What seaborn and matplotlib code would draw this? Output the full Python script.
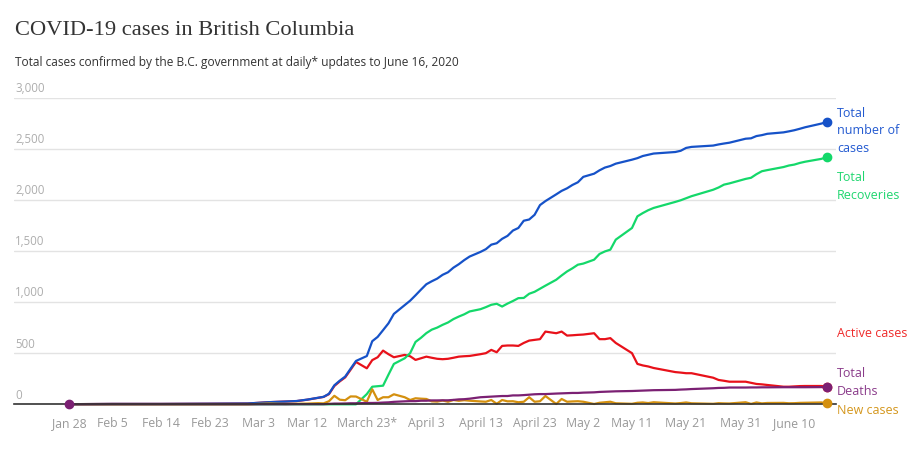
import pandas as pd
import numpy as np
import matplotlib.pyplot as plt
import seaborn as sns

# data (B.C. updates, Jan 28 - Jun 16 2020)
dates = [
    "2020-01-28", "2020-02-05", "2020-02-14", "2020-02-23", "2020-03-01",
    "2020-03-05", "2020-03-08", "2020-03-10", "2020-03-12", "2020-03-14",
    "2020-03-15", "2020-03-16", "2020-03-17", "2020-03-18", "2020-03-19",
    "2020-03-20", "2020-03-21", "2020-03-23", "2020-03-24", "2020-03-25",
    "2020-03-26", "2020-03-27", "2020-03-28", "2020-03-30", "2020-03-31",
    "2020-04-01", "2020-04-02", "2020-04-03", "2020-04-04", "2020-04-05",
    "2020-04-06", "2020-04-07", "2020-04-08", "2020-04-09", "2020-04-10",
    "2020-04-11", "2020-04-13", "2020-04-14", "2020-04-15", "2020-04-16",
    "2020-04-17", "2020-04-18", "2020-04-19", "2020-04-20", "2020-04-21",
    "2020-04-22", "2020-04-23", "2020-04-24", "2020-04-25", "2020-04-27",
    "2020-04-28", "2020-04-29", "2020-04-30", "2020-05-01", "2020-05-02",
    "2020-05-04", "2020-05-05", "2020-05-06", "2020-05-07", "2020-05-08",
    "2020-05-11", "2020-05-12", "2020-05-13", "2020-05-14", "2020-05-15",
    "2020-05-19", "2020-05-20", "2020-05-21", "2020-05-22", "2020-05-26",
    "2020-05-27", "2020-05-28", "2020-05-29", "2020-06-01", "2020-06-02",
    "2020-06-03", "2020-06-04", "2020-06-05", "2020-06-08", "2020-06-09",
    "2020-06-10", "2020-06-11", "2020-06-12", "2020-06-15", "2020-06-16",
]

total_cases = [
    1, 4, 4, 6, 8,
    21, 27, 32, 46, 64,
    73, 103, 186, 231, 271,
    348, 424, 472, 617, 659,
    725, 792, 884, 970, 1013,
    1066, 1121, 1174, 1203, 1229,
    1266, 1291, 1336, 1370, 1410,
    1445, 1490, 1517, 1561, 1575,
    1618, 1647, 1699, 1724, 1795,
    1807, 1853, 1948, 1987, 2053,
    2087, 2112, 2145, 2171, 2224,
    2255, 2288, 2315, 2330, 2353,
    2392, 2407, 2428, 2440, 2452,
    2467, 2479, 2507, 2517, 2530,
    2541, 2550, 2558, 2597, 2601,
    2623, 2632, 2645, 2659, 2669,
    2680, 2694, 2709, 2745, 2760,
]

recoveries = [
    0, 0, 0, 0, 0,
    0, 0, 0, 0, 0,
    0, 0, 0, 0, 0,
    0, 0, 100, 172, 177,
    182, 290, 395, 450, 500,
    610, 650, 696, 730, 750,
    777, 800, 833, 858, 880,
    908, 930, 950, 973, 983,
    956, 985, 1010, 1038, 1040,
    1081, 1100, 1130, 1160, 1218,
    1260, 1299, 1330, 1365, 1376,
    1414, 1470, 1495, 1512, 1610,
    1724, 1838, 1870, 1898, 1920,
    1979, 1995, 2015, 2035, 2098,
    2120, 2148, 2160, 2204, 2215,
    2250, 2279, 2290, 2320, 2335,
    2344, 2360, 2372, 2400, 2416,
]

active_cases = [
    1, 4, 4, 6, 8,
    21, 27, 31, 45, 63,
    72, 99, 179, 224, 263,
    338, 414, 352, 432, 460,
    525, 490, 460, 483, 470,
    434, 450, 466, 455, 445,
    441, 445, 455, 466, 470,
    473, 490, 500, 532, 509,
    571, 575, 575, 571, 600,
    623, 630, 637, 711, 695,
    711, 672, 675, 679, 682,
    695, 637, 637, 647, 600,
    500, 395, 380, 370, 355,
    315, 310, 304, 304, 260,
    238, 230, 221, 221, 210,
    199, 195, 189, 172, 172,
    175, 178, 179, 179, 172,
]

deaths = [
    0, 0, 0, 0, 0,
    0, 0, 1, 1, 1,
    1, 4, 7, 7, 8,
    10, 10, 13, 13, 14,
    17, 19, 24, 29, 31,
    31, 35, 35, 38, 38,
    39, 39, 43, 48, 50,
    55, 69, 72, 75, 78,
    81, 81, 87, 87, 90,
    94, 98, 100, 100, 105,
    107, 109, 111, 111, 114,
    117, 121, 123, 125, 127,
    130, 132, 134, 136, 138,
    141, 144, 146, 149, 157,
    160, 161, 164, 164, 165,
    165, 166, 166, 167, 167,
    167, 167, 167, 168, 168,
]

new_cases = [
    1, 0, 0, 0, 0,
    8, 3, 5, 7, 11,
    9, 30, 83, 45, 40,
    77, 76, 25, 147, 42,
    69, 69, 98, 69, 42,
    59, 55, 52, 29, 26,
    37, 25, 42, 34, 40,
    35, 28, 25, 42, 5,
    42, 29, 30, 20, 25,
    69, 25, 30, 81, 3,
    52, 25, 28, 30, 25,
    3, 15, 20, 25, 10,
    5, 15, 18, 12, 20,
    8, 12, 18, 10, 5,
    11, 9, 8, 20, 4,
    18, 9, 13, 14, 10,
    11, 14, 15, 18, 10,
]

tick_dates = ["2020-01-28", "2020-02-05", "2020-02-14", "2020-02-23", "2020-03-03",
              "2020-03-12", "2020-03-23", "2020-04-03", "2020-04-13", "2020-04-23",
              "2020-05-02", "2020-05-11", "2020-05-21", "2020-05-31", "2020-06-10"]
tick_labels = ["Jan 28", "Feb 5", "Feb 14", "Feb 23", "Mar 3", "Mar 12", "March 23*",
               "April 3", "April 13", "April 23", "May 2", "May 11", "May 21", "May 31",
               "June 10"]
y_ticks = [0, 500, 1000, 1500, 2000, 2500, 3000]

df = pd.DataFrame({
    "date": pd.to_datetime(dates),
    "total": total_cases,
    "recovered": recoveries,
    "active": active_cases,
    "new": new_cases,
    "deaths": deaths,
})

# column, line colour, label text colour, label, label offset (pt)
series = [
    ("active", "#e8111a", "#ef2b2b", "Active cases", 38.5),
    ("recovered", "#14d86a", "#1fd66f", "Total\nRecoveries", -21),
    ("total", "#1652c8", "#2259d0", "Total\nnumber of\ncases", -6.4),
    ("new", "#d4900f", "#d4961c", "New cases", -5.3),
    ("deaths", "#7b2073", "#8a3b8a", "Total\nDeaths", 3.5),
]

sns.set_style("white")
plt.rcParams['font.family'] = ['Open Sans', 'DejaVu Sans']

fig = plt.figure(figsize=(9.12, 4.49), dpi=100)
ax = fig.add_axes([14 / 912, 1 - 404.3 / 449, (836 - 14) / 912, (404.3 - 97.5) / 449])

for col, c, tc, lbl, dy in series:
    sns.lineplot(data=df, x="date", y=col, color=c, linewidth=1.6, ax=ax,
                 errorbar=None, clip_on=False, solid_joinstyle="round")
    ax.plot(df["date"].iloc[-1], df[col].iloc[-1], "o", ms=6, color=c,
            clip_on=False, zorder=5)
    ax.annotate(lbl, xy=(df["date"].iloc[-1], df[col].iloc[-1]), xytext=(7.4, dy),
                textcoords="offset points", ha="left", va="center", fontsize=9,
                color=tc, linespacing=1.46, annotation_clip=False)

ax.plot(df["date"].iloc[0], df["deaths"].iloc[0], "o", ms=6, color="#7b2073",
        clip_on=False, zorder=5)

ax.set_xlim(pd.Timestamp("2020-01-28") - pd.Timedelta(days=10.2),
            pd.Timestamp("2020-01-28") + pd.Timedelta(days=141.7))
ax.set_ylim(0, 3000)
ax.set_xlabel("")
ax.set_ylabel("")

ax.set_yticks(y_ticks)
ax.yaxis.grid(True, color="#e3e3e3", linewidth=1)
ax.xaxis.grid(False)
ax.set_axisbelow(True)
ax.tick_params(axis="y", length=0, labelleft=False)
for v in y_ticks:
    ax.annotate(f"{v:,}", xy=(0, v), xycoords=ax.get_yaxis_transform(),
                xytext=(0.8, 4), textcoords="offset points", ha="left",
                va="baseline", fontsize=8.3, color="#adadad", annotation_clip=False)

ax.set_xticks(pd.to_datetime(tick_dates))
ax.set_xticklabels(tick_labels)
ax.tick_params(axis="x", length=5, width=1, color="#333333", pad=4,
               labelsize=8.8, labelcolor="#999999")

for s in ["top", "right", "left"]:
    ax.spines[s].set_visible(False)
ax.spines["bottom"].set_color("#333333")
ax.spines["bottom"].set_linewidth(1.2)

fig.text(15 / 912, 1 - 35 / 449, "COVID-19 cases in British Columbia",
         family=["Liberation Serif", "DejaVu Serif"], fontsize=16.2, color="#333333",
         va="baseline", ha="left")
fig.text(15 / 912, 1 - 65.7 / 449,
         "Total cases confirmed by the B.C. government at daily* updates to June 16, 2020",
         fontsize=8.6, color="#333333", va="baseline", ha="left")

fig.savefig("out.png", dpi=100)
